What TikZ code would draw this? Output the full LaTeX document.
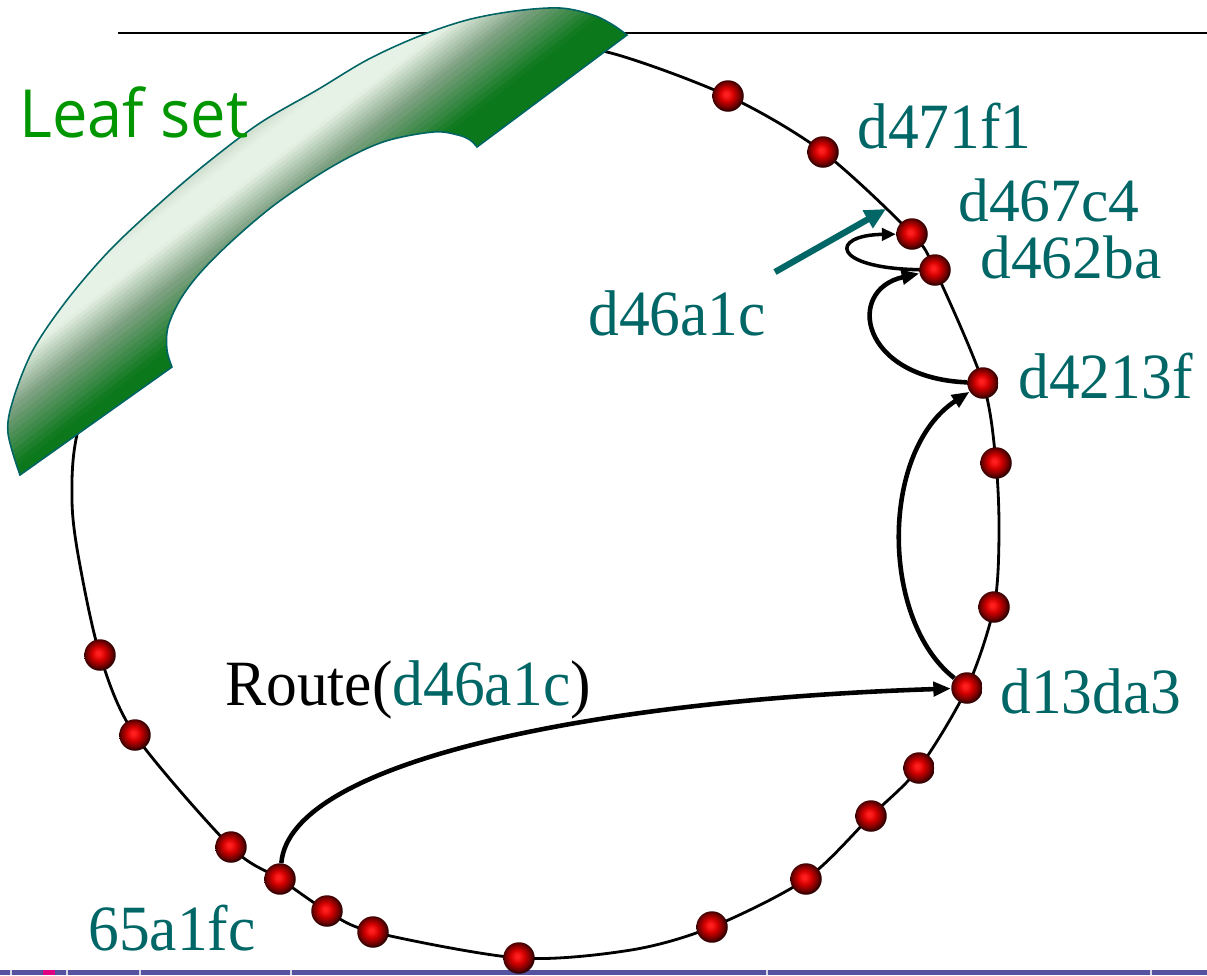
\documentclass[tikz,border=0pt]{standalone}
\usepackage{graphicx}
\usepackage{fontspec}
\setmainfont{Liberation Serif}
\newfontfamily\leaffont{Open Sans}
\usetikzlibrary{arrows.meta}
\definecolor{labteal}{RGB}{0,102,102}
\definecolor{leafgreen}{RGB}{0,150,0}
\definecolor{leafedge}{RGB}{0,100,100}
\definecolor{lczero}{RGB}{188,205,190}
\definecolor{lclight}{RGB}{230,242,229}
\definecolor{lcmid}{RGB}{128,162,132}
\definecolor{lcdark}{RGB}{12,120,28}
\definecolor{barcol}{RGB}{85,82,160}
\definecolor{barmag}{RGB}{225,0,130}
\definecolor{ballhi}{RGB}{255,30,30}
\definecolor{ballmid}{RGB}{210,0,0}
\definecolor{balldark}{RGB}{115,0,0}
\definecolor{balledge}{RGB}{45,0,0}
\pgfdeclareradialshading{redball}{\pgfpoint{-3bp}{3bp}}{color(0bp)=(ballhi); color(3bp)=(ballhi); color(11bp)=(ballmid); color(20bp)=(balldark); color(25bp)=(balledge); color(50bp)=(balledge)}
\def\leafpath{plot[smooth,tension=0.55] coordinates {(20,475) (8,433) (13,400) (33,350) (67,300) (110,250) (160,203) (207,163) (260,123) (317,90) (367,60) (417,37) (467,20) (515,11) (560,8) (593,15) (613,25) (627,35)} -- (477,147) -- plot[smooth,tension=0.55] coordinates {(477,147) (470,140) (458,135) (433,132) (383,142) (333,166) (277,203) (233,240) (200,273) (180,300) (168,327) (167,350) (172,367)} -- cycle}
\newcommand\vlab[1]{\scalebox{1}[1.05]{#1}}
\begin{document}
\begin{tikzpicture}[x=0.02cm,y=-0.02cm,
  peer/.style={circle, minimum size=0.63cm, inner sep=0pt, shade, shading=redball},
  lbl/.style={font=\fontsize{35}{40}\selectfont, text=labteal, anchor=base west, inner sep=0pt},
  ringline/.style={line width=1.6pt},
  hop/.style={line width=2.6pt, -{Triangle[length=10pt,width=8pt]}},
  smallhop/.style={line width=2pt, -{Triangle[length=8pt,width=7pt]}},
  pointer/.style={line width=3.6pt, labteal, -{Triangle[length=12pt,width=11pt]}}]
\useasboundingbox (0,0) rectangle (1207,975);
% footer bar
\fill[barcol] (0,970) rectangle (1207,975);
\foreach \x in {11,67,140,291,767,1151} \draw[white!75!barcol, line width=0.6pt] (\x,970) -- (\x,975);
\fill[barmag] (43,970) rectangle (55,975);
% top rule
\draw[line width=1.1pt] (118,33) -- (1207,33);
% ring
\draw[ringline] plot[smooth cycle] coordinates {(520,45) (607,52) (728,96) (823,152) (912,234) (935,270) (983,383) (996,463) (999,535) (994,607) (967,688) (919,768) (871,816) (806,879) (712,927) (631,950) (519,958) (373,932) (327,911) (280,879) (231,847) (135,735) (100,655) (79,560) (72,500) (78,430) (120,300) (250,175) (400,85)};
% leaf set band
\begin{scope}
  \clip \leafpath;
  \fill[lczero] (-100,-100) rectangle (800,600);
  \foreach \segA/\segB/\colA/\colB in {245/270/lczero/lclight, 270/294/lclight/lclight, 294/330/lclight/lcmid, 330/380/lcmid/lcdark} {
    \foreach \i in {0,...,9} {
      \pgfmathsetmacro\va{\segA+(\segB-\segA)*\i/10}
      \pgfmathsetmacro\vb{\segA+(\segB-\segA)*(\i+1)/10+1.5}
      \pgfmathtruncatemacro\mixpct{10*\i+5}
      \fill[\colB!\mixpct!\colA] ({\va*0.61+790},{\va*0.79-610}) -- ({\va*0.61-790},{\va*0.79+610}) -- ({\vb*0.61-790},{\vb*0.79+610}) -- ({\vb*0.61+790},{\vb*0.79-610}) -- cycle;
    }
  }
  \fill[lcdark] (1021,-309) -- (-559,911) -- (125,1795) -- (1705,575) -- cycle;
\end{scope}
\draw[leafedge, line width=0.9pt] \leafpath;
\node[font=\leaffont\fontsize{36}{40}\selectfont, text=leafgreen, anchor=base west, inner sep=0pt] (leaflbl) at (19,137) {\vlab{Leaf set}};
% peers
\foreach \n/\p in {n1/{(728,96)}, n2/{(823,152)}, n3/{(912,234)}, n4/{(935,270)}, n5/{(983,383)}, n6/{(996,463)}, n7/{(994,607)}, n8/{(967,688)}, n9/{(919,768)}, n10/{(871,816)}, n11/{(806,879)}, n12/{(712,927)}, n13/{(519,958)}, n14/{(373,932)}, n15/{(327,911)}, n16/{(280,879)}, n17/{(231,847)}, n18/{(135,735)}, n19/{(100,655)}}
  \node[peer] (\n) at \p {};
% labels
\node[lbl] (l1) at (857,148) {\vlab{d471f1}};
\node[lbl] (l2) at (958,221) {d467c4};
\node[lbl] (l3) at (980,278) {d462ba};
\node[lbl] (l4) at (588,335) {\vlab{d46a1c}};
\node[lbl] (l5) at (1018,398) {\vlab{d4213f}};
\node[lbl] (l6) at (1000,713) {\vlab{d13da3}};
\node[lbl, text=black] (l7) at (225,705) {\vlab{Route(\textcolor{labteal}{d46a1c})}};
\node[lbl] (l8) at (88,950) {\vlab{65a1fc}};
% pointer to key position
\coordinate (ta) at (775,272);
\coordinate (tb) at (886,209);
\draw[pointer] (ta) -- (tb);
% routing hops
\draw[hop] (n16) .. controls (290,760) and (600,700) .. (n8);
\draw[hop] (n8) .. controls (880,620) and (880,450) .. (n5);
\draw[hop] (n5) .. controls (860,378) and (845,290) .. (n4);
\draw[smallhop] (n4) .. controls (830,268) and (830,235) .. (n3);
\end{tikzpicture}
\end{document}
